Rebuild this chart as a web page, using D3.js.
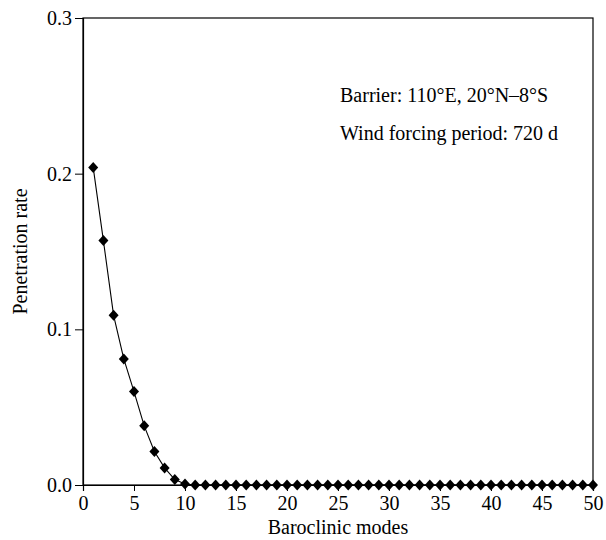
<!DOCTYPE html>
<html>
<head>
<meta charset="utf-8">
<script src="https://cdn.jsdelivr.net/npm/d3@7"></script>
<style>
  html, body { margin: 0; padding: 0; background: #fff; }
  svg text { font-family: "Liberation Serif", "Times New Roman", serif; fill: #000; }
</style>
</head>
<body>
<svg id="chart" width="606" height="540"></svg>
<script>
// Baroclinic mode number (1..50) and penetration rate for each mode
const modes = d3.range(1, 51);
const rates = [
  0.204, 0.157, 0.109, 0.081, 0.060, 0.038, 0.0215, 0.011, 0.0035, 0.0006,
  0, 0, 0, 0, 0, 0, 0, 0, 0, 0,
  0, 0, 0, 0, 0, 0, 0, 0, 0, 0,
  0, 0, 0, 0, 0, 0, 0, 0, 0, 0,
  0, 0, 0, 0, 0, 0, 0, 0, 0, 0
];
const xTicks = [0, 5, 10, 15, 20, 25, 30, 35, 40, 45, 50];
const yTicks = [0, 0.1, 0.2, 0.3];
const notes = ["Barrier: 110°E, 20°N–8°S", "Wind forcing period: 720 d"];

const FS = 20;
const margin = { left: 83, right: 13, top: 18, bottom: 55 };
const svg = d3.select("#chart");
const W = 606, H = 540;
const x = d3.scaleLinear().domain([0, 50]).range([margin.left, W - margin.right]);
const y = d3.scaleLinear().domain([0, 0.3]).range([H - margin.bottom, margin.top]);

// frame
svg.append("rect")
  .attr("x", x(0)).attr("y", y(0.3))
  .attr("width", x(50) - x(0)).attr("height", y(0) - y(0.3))
  .attr("fill", "none").attr("stroke", "#000").attr("stroke-width", 1.2);

// x axis
const xAxis = svg.append("g")
  .attr("transform", `translate(0,${y(0)})`)
  .call(d3.axisBottom(x).tickValues(xTicks).tickSize(6).tickPadding(5).tickFormat(d3.format("d")));
xAxis.select(".domain").attr("stroke-width", 1.2);
xAxis.selectAll("text").attr("font-size", FS).attr("font-family", "Liberation Serif");

// y axis
const yAxis = svg.append("g")
  .attr("transform", `translate(${x(0)},0)`)
  .call(d3.axisLeft(y).tickValues(yTicks).tickSize(8).tickPadding(3).tickFormat(d3.format(".1f")));
yAxis.select(".domain").attr("stroke-width", 1.2);
yAxis.selectAll("text").attr("font-size", FS).attr("font-family", "Liberation Serif");

// axis titles
svg.append("text")
  .attr("x", x(25)).attr("y", 534)
  .attr("text-anchor", "middle").attr("font-size", FS)
  .text("Baroclinic modes");
svg.append("text")
  .attr("transform", `translate(27,${(y(0) + y(0.3)) / 2}) rotate(-90)`)
  .attr("text-anchor", "middle").attr("font-size", FS)
  .text("Penetration rate");

// annotation
svg.selectAll("text.note").data(notes).join("text")
  .attr("class", "note")
  .attr("x", 340).attr("y", (d, i) => 102 + i * 38)
  .attr("font-size", FS)
  .text(d => d);

// series line
const data = modes.map((m, i) => ({ m, r: rates[i] }));
svg.append("path")
  .datum(data)
  .attr("fill", "none").attr("stroke", "#000").attr("stroke-width", 1.1)
  .attr("d", d3.line().x(d => x(d.m)).y(d => y(d.r)));

// diamond markers
svg.selectAll("path.pt").data(data).join("path")
  .attr("class", "pt")
  .attr("transform", d => `translate(${x(d.m)},${y(d.r)})`)
  .attr("d", "M0,-5.5L5,0L0,5.5L-5,0Z")
  .attr("fill", "#000");
</script>
</body>
</html>
